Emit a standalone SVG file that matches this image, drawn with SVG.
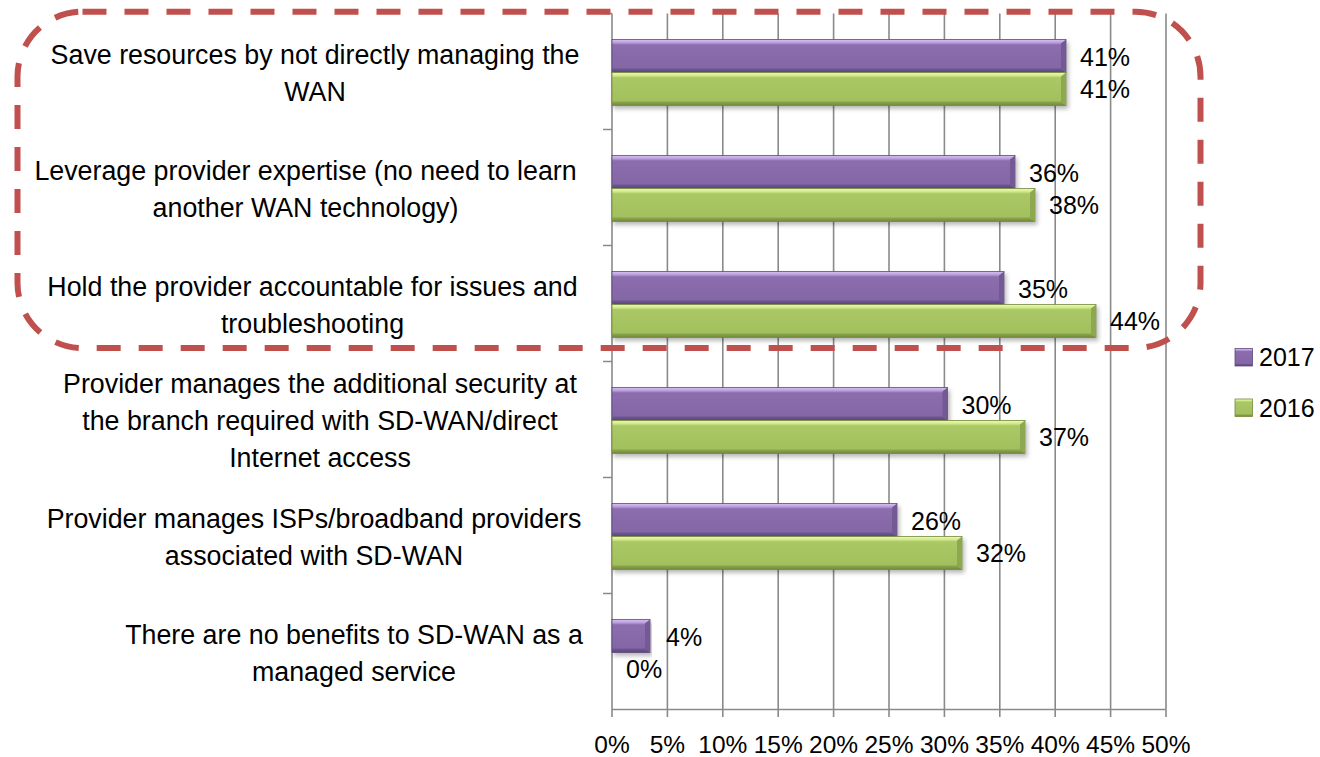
<svg xmlns="http://www.w3.org/2000/svg" width="1320" height="757" viewBox="0 0 1320 757">
<defs>
<linearGradient id="gP" x1="0" y1="0" x2="0" y2="1">
<stop offset="0" stop-color="#d6c2f2"/>
<stop offset="0.1" stop-color="#b99cdc"/>
<stop offset="0.16" stop-color="#8c6eae"/>
<stop offset="0.86" stop-color="#8466a6"/>
<stop offset="0.9" stop-color="#6d5490"/>
<stop offset="1" stop-color="#5c4778"/>
</linearGradient>
<linearGradient id="gG" x1="0" y1="0" x2="0" y2="1">
<stop offset="0" stop-color="#eefcb4"/>
<stop offset="0.1" stop-color="#d0e788"/>
<stop offset="0.16" stop-color="#abc866"/>
<stop offset="0.86" stop-color="#a3c05e"/>
<stop offset="0.9" stop-color="#89a34c"/>
<stop offset="1" stop-color="#72883b"/>
</linearGradient>
<filter id="sh" x="-5%" y="-20%" width="110%" height="150%">
<feDropShadow dx="2" dy="3" stdDeviation="2" flood-color="#000" flood-opacity="0.28"/>
</filter>
<style>
.lbl{font-family:"Liberation Sans",Arial,sans-serif;font-size:26.8px;fill:#000;text-anchor:middle}
.num{font-family:"Liberation Sans",Arial,sans-serif;font-size:25px;fill:#000}
.ax{font-family:"Liberation Sans",Arial,sans-serif;font-size:24.5px;fill:#000;text-anchor:middle}
.grid{stroke:#8a8a8a;stroke-width:1.6;fill:none}
.bp{fill:url(#gP);stroke:#5d4a7a;stroke-width:0.8}
.bg{fill:url(#gG);stroke:#74893e;stroke-width:0.8}
.ep{fill:#735a95}
.eg{fill:#8ea850}
.bars{filter:url(#sh)}
.hl{fill:none;stroke:#c0504d;stroke-width:6;stroke-dasharray:24 18}
</style>
</defs>
<rect width="1320" height="757" fill="#ffffff"/>
<g id="axes">
<path class="grid" d="M667.4 13.5V709.5M722.8 13.5V709.5M778.2 13.5V709.5M833.6 13.5V709.5M889 13.5V709.5M944.4 13.5V709.5M999.8 13.5V709.5M1055.2 13.5V709.5M1110.6 13.5V709.5M1166 13.5V709.5"/>
<path class="grid" d="M612 13.5V709.5H1166M603 13.5H612M603 129.5H612M603 245.5H612M603 361.5H612M603 477.5H612M603 593.5H612M612 709.5V717M667.4 709.5V717M722.8 709.5V717M778.2 709.5V717M833.6 709.5V717M889 709.5V717M944.4 709.5V717M999.8 709.5V717M1055.2 709.5V717M1110.6 709.5V717M1166 709.5V717"/>
<text class="ax" x="612" y="753">0%</text>
<text class="ax" x="667.4" y="753">5%</text>
<text class="ax" x="722.8" y="753">10%</text>
<text class="ax" x="778.2" y="753">15%</text>
<text class="ax" x="833.6" y="753">20%</text>
<text class="ax" x="889" y="753">25%</text>
<text class="ax" x="944.4" y="753">30%</text>
<text class="ax" x="999.8" y="753">35%</text>
<text class="ax" x="1055.2" y="753">40%</text>
<text class="ax" x="1110.6" y="753">45%</text>
<text class="ax" x="1166" y="753">50%</text>
</g>
<g id="cat1">
<text class="lbl" x="315" y="63.7">Save resources by not directly managing the</text>
<text class="lbl" x="315" y="100.7">WAN</text>
<g class="bars">
<rect class="bp" x="612" y="39.5" width="454" height="33"/><polygon class="ep" points="1061,43.5 1066,39.5 1066,72.5 1061,69.5"/>
<rect class="bg" x="612" y="72.5" width="454" height="33"/><polygon class="eg" points="1061,76.5 1066,72.5 1066,105.5 1061,102.5"/>
</g>
<text class="num" x="1080" y="66">41%</text>
<text class="num" x="1080" y="98">41%</text>
</g>
<g id="cat2">
<text class="lbl" x="305.5" y="179.7">Leverage provider expertise (no need to learn</text>
<text class="lbl" x="305.5" y="216.7">another WAN technology)</text>
<g class="bars">
<rect class="bp" x="612" y="155.5" width="403" height="33"/><polygon class="ep" points="1010,159.5 1015,155.5 1015,188.5 1010,185.5"/>
<rect class="bg" x="612" y="188.5" width="423" height="33"/><polygon class="eg" points="1030,192.5 1035,188.5 1035,221.5 1030,218.5"/>
</g>
<text class="num" x="1029" y="182">36%</text>
<text class="num" x="1049" y="214">38%</text>
</g>
<g id="cat3">
<text class="lbl" x="312.5" y="295.7">Hold the provider accountable for issues and</text>
<text class="lbl" x="312.5" y="332.7">troubleshooting</text>
<g class="bars">
<rect class="bp" x="612" y="271.5" width="392" height="33"/><polygon class="ep" points="999,275.5 1004,271.5 1004,304.5 999,301.5"/>
<rect class="bg" x="612" y="304.5" width="484" height="33"/><polygon class="eg" points="1091,308.5 1096,304.5 1096,337.5 1091,334.5"/>
</g>
<text class="num" x="1018" y="298">35%</text>
<text class="num" x="1110" y="330">44%</text>
</g>
<g id="cat4">
<text class="lbl" x="320" y="393">Provider manages the additional security at</text>
<text class="lbl" x="320" y="430">the branch required with SD-WAN/direct</text>
<text class="lbl" x="320" y="467">Internet access</text>
<g class="bars">
<rect class="bp" x="612" y="387.5" width="335.5" height="33"/><polygon class="ep" points="942.5,391.5 947.5,387.5 947.5,420.5 942.5,417.5"/>
<rect class="bg" x="612" y="420.5" width="413" height="33"/><polygon class="eg" points="1020,424.5 1025,420.5 1025,453.5 1020,450.5"/>
</g>
<text class="num" x="961.5" y="414">30%</text>
<text class="num" x="1039" y="446">37%</text>
</g>
<g id="cat5">
<text class="lbl" x="314" y="527.7">Provider manages ISPs/broadband providers</text>
<text class="lbl" x="314" y="564.7">associated with SD-WAN</text>
<g class="bars">
<rect class="bp" x="612" y="503.5" width="285" height="33"/><polygon class="ep" points="892,507.5 897,503.5 897,536.5 892,533.5"/>
<rect class="bg" x="612" y="536.5" width="350" height="33"/><polygon class="eg" points="957,540.5 962,536.5 962,569.5 957,566.5"/>
</g>
<text class="num" x="911" y="530">26%</text>
<text class="num" x="976" y="562">32%</text>
</g>
<g id="cat6">
<text class="lbl" x="354" y="643.7">There are no benefits to SD-WAN as a</text>
<text class="lbl" x="354" y="680.7">managed service</text>
<g class="bars">
<rect class="bp" x="612" y="619.5" width="38" height="33"/><polygon class="ep" points="645,623.5 650,619.5 650,652.5 645,649.5"/>
</g>
<text class="num" x="666" y="646">4%</text>
<text class="num" x="626" y="678">0%</text>
</g>
<g id="legend">
<rect class="bp" x="1235" y="348.5" width="17.5" height="17.5"/>
<text class="num" x="1259" y="366">2017</text>
<rect class="bg" x="1235" y="399" width="17.5" height="17.5"/>
<text class="num" x="1259" y="416.5">2016</text>
</g>
<g id="highlight">
<rect class="hl" x="17.5" y="11.7" width="1183" height="336.3" rx="65" ry="65"/>
</g>
</svg>
